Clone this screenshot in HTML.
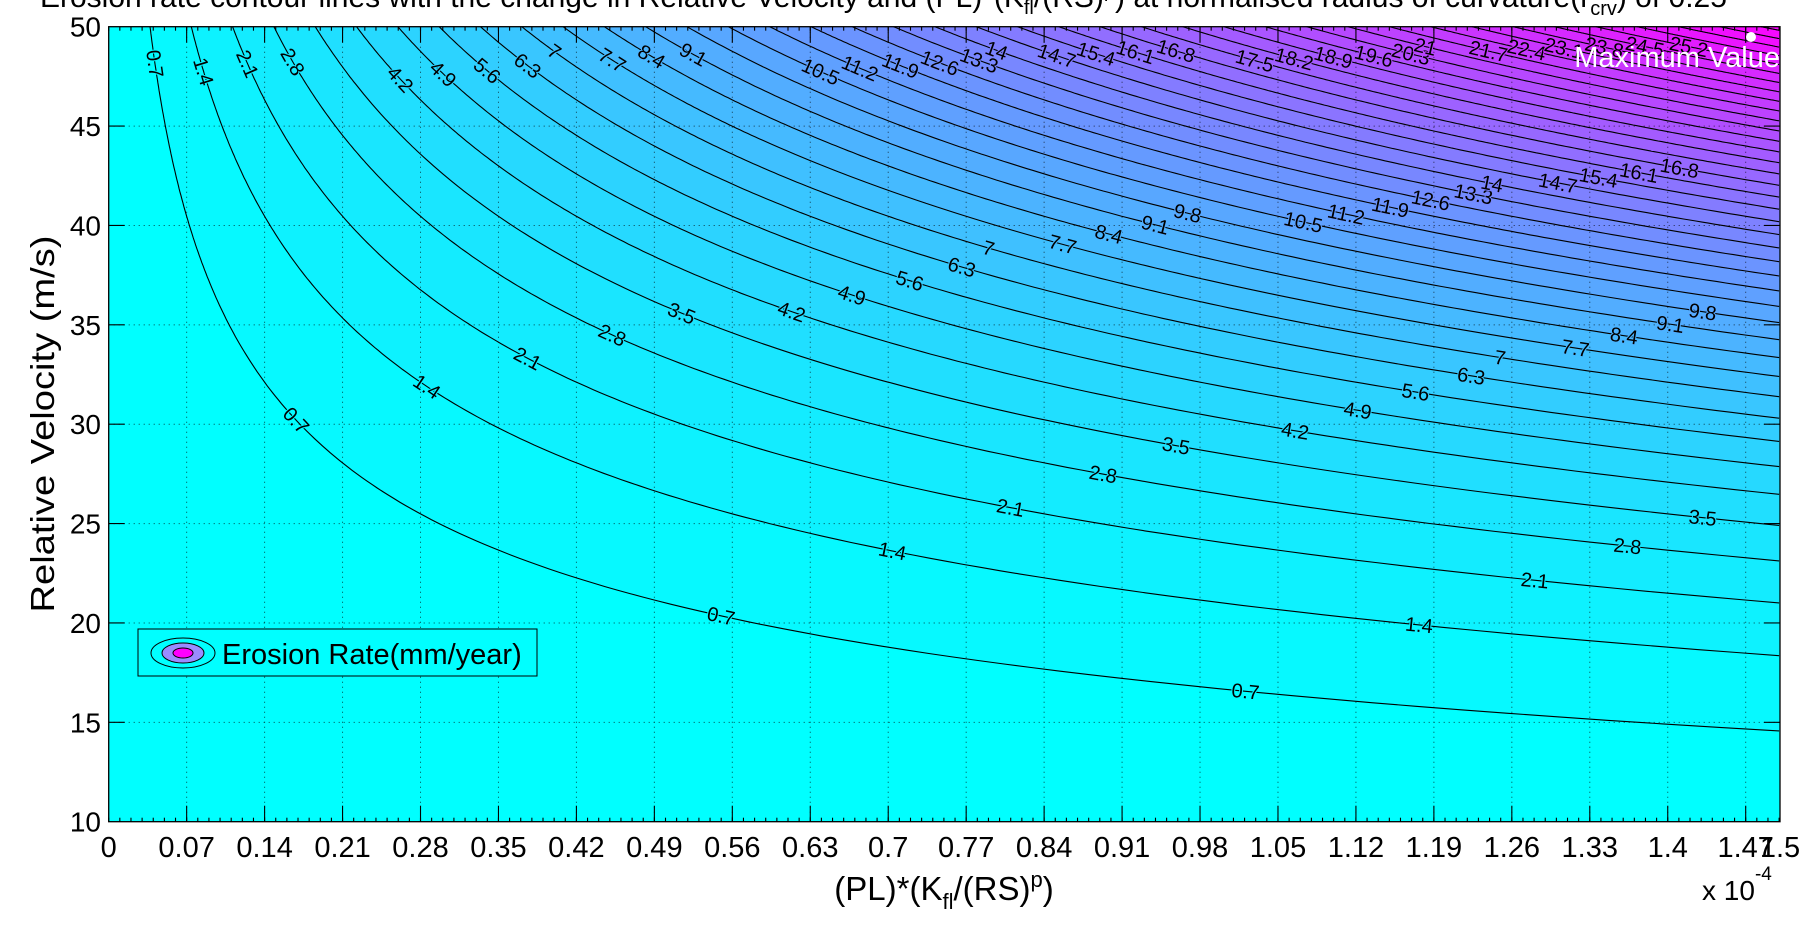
<!DOCTYPE html>
<html><head><meta charset="utf-8">
<style>
html,body{margin:0;padding:0;background:#fff;}
svg{display:block;font-family:"Liberation Sans",Arial,sans-serif;}
</style></head>
<body>
<svg id="s" width="1817" height="928" viewBox="0 0 1817 928" xmlns="http://www.w3.org/2000/svg">
<text x="40" y="7" font-size="30" fill="#000">Erosion rate contour lines with the change in Relative Velocity and (PL)*(K<tspan font-size="20" dy="7">fl</tspan><tspan dy="-7">/(RS)</tspan><tspan font-size="20" dy="-10">p</tspan><tspan dy="10">) at normalised radius of curvature(r</tspan><tspan font-size="20" dy="8">crv</tspan><tspan dy="-8">) of 0.25</tspan></text>
<g id="plot"></g>
</svg>
<script>
(function(){
var NS="http://www.w3.org/2000/svg";
var L=108.7,R=1780,T=26.7,B=821.7;
var PX=1113.6, PY=19.875;
var c=18.87/125000;
var Emax=c*1.5*125000;
function px(x){return L+x*PX;}
function py(v){return B-(v-10)*PY;}
function cool(t){t=Math.max(0,Math.min(1,t));var r=Math.round(255*t),g=Math.round(255*(1-t));return "rgb("+r+","+g+",255)";}
var g=document.getElementById("plot");
function el(n,a,p){var e=document.createElementNS(NS,n);for(var k in a)e.setAttribute(k,a[k]);(p||g).appendChild(e);return e;}
var levels=[];for(var k=1;k<=40;k++)levels.push(Math.round(k*7)/10);
el("rect",{x:L,y:T,width:R-L,height:B-T,fill:cool(0)});
function curvePts(Lv){
  var vmin=Math.pow(Lv/(c*1.5),1/3);var vs=Math.max(10,vmin);var pts=[];
  var N=200;for(var i=0;i<=N;i++){var v=vs+(50-vs)*i/N;var x=Lv/(c*v*v*v);if(x>1.5)x=1.5;pts.push([px(x),py(v)]);}
  return {pts:pts,vs:vs};
}
levels.forEach(function(Lv){
  var cp=curvePts(Lv);var p=cp.pts.map(function(a){return a[0].toFixed(1)+","+a[1].toFixed(1);});
  var extra=[R+","+T];
  if(cp.vs<=10.0001){extra.push(R+","+B);}
  el("polygon",{points:p.concat(extra).join(" "),fill:cool(Lv/Emax)});
});
var xt=[];for(var i=0;i<=21;i++){xt.push(i*0.07);}
var gg=el("g",{stroke:"#000","stroke-width":1,"stroke-dasharray":"1,4",fill:"none",opacity:0.7});
for(var i=1;i<xt.length;i++){var X=px(xt[i]);if(X<R-1)el("line",{x1:X,y1:T,x2:X,y2:B},gg);}
for(var v=15;v<50;v+=5){el("line",{x1:L,y1:py(v),x2:R,y2:py(v)},gg);}
levels.forEach(function(Lv){
  var cp=curvePts(Lv);
  el("polyline",{points:cp.pts.map(function(a){return a[0].toFixed(1)+","+a[1].toFixed(1);}).join(" "),fill:"none",stroke:"#000","stroke-width":1.1});
});
var labs=[[0.7,133],[1.4,175],[2.1,213],[2.8,252],[4.2,345],[4.9,382],[5.6,420],[6.3,455],[7,478],[7.7,528],[8.4,562],[9.1,598],
[10.5,708],[11.2,742],[11.9,777],[12.6,811],[13.3,845],[14,860],[14.7,912],[15.4,946],[16.1,980],[16.8,1015],[17.5,1083],[18.2,1117],[18.9,1151],[19.6,1186],[20.3,1218],[21,1230],[21.7,1285],[22.4,1318],[23.1,1350],[23.8,1385],[24.5,1420],[25.2,1450],
[0.7,255],[1.4,368],[2.1,455],[2.8,528],[3.5,588],[4.2,683],[4.9,735],[5.6,785],[6.3,830],[7,853],[7.7,917],[8.4,957],[9.1,997],[9.8,1025],[10.5,1125],[11.2,1162],[11.9,1200],[12.6,1235],[13.3,1272],[14,1288],[14.7,1345],[15.4,1380],[16.1,1415],[16.8,1450],
[0.7,622],[1.4,770],[2.1,872],[2.8,952],[3.5,1015],[4.2,1118],[4.9,1172],[5.6,1222],[6.3,1270],[7,1295],[7.7,1360],[8.4,1402],[9.1,1442],[9.8,1470],
[0.7,1075],[1.4,1225],[2.1,1325],[2.8,1405],[3.5,1470]];
var lg=el("g",{"font-size":20,fill:"#000","text-anchor":"middle"});
labs.forEach(function(a){
  var Lv=a[0];var x=(a[1]-93)/1443*1.5;var v=Math.pow(Lv/(c*x),1/3);
  if(v>49){v=49;x=Lv/(c*v*v*v);}
  var dpx=3*x/v*PX, dpy=PY;var ang=Math.atan2(dpy,dpx)*180/Math.PI;
  var X=px(x),Y=py(v);
  var t=el("text",{x:0,y:7,transform:"translate("+X.toFixed(1)+","+Y.toFixed(1)+") rotate("+ang.toFixed(1)+")",stroke:cool(Lv/Emax),"stroke-width":2,"paint-order":"stroke"},lg);
  t.textContent=String(Lv);
});
el("rect",{x:L,y:T,width:R-L,height:B-T,fill:"none",stroke:"#000","stroke-width":1.3});
var tk=el("g",{stroke:"#000","stroke-width":1.1});
for(var i=1;i<xt.length;i++){var X=px(xt[i]);if(X<R-1){el("line",{x1:X,y1:B,x2:X,y2:B-16},tk);el("line",{x1:X,y1:T,x2:X,y2:T+16},tk);}}
for(var i=0;i<=150;i++){var X=px(i*0.01);el("line",{x1:X,y1:B,x2:X,y2:B-4},tk);el("line",{x1:X,y1:T,x2:X,y2:T+4},tk);}
for(var v=15;v<50;v+=5){el("line",{x1:L,y1:py(v),x2:L+16,y2:py(v)},tk);el("line",{x1:R,y1:py(v),x2:R-16,y2:py(v)},tk);}
var tl=el("g",{"font-size":29,fill:"#000","text-anchor":"middle"});
var xs=["0","0.07","0.14","0.21","0.28","0.35","0.42","0.49","0.56","0.63","0.7","0.77","0.84","0.91","0.98","1.05","1.12","1.19","1.26","1.33","1.4","1.47"];
xs.forEach(function(s,i){var t=el("text",{x:px(i*0.07),y:857},tl);t.textContent=s;});
var t15=el("text",{x:R,y:857},tl);t15.textContent="1.5";
var yl=el("g",{"font-size":28,fill:"#000","text-anchor":"end"});
for(var v=10;v<=50;v+=5){var t=el("text",{x:101,y:py(v)+10},yl);t.textContent=String(v);}
var m=el("text",{x:1702,y:900,"font-size":28});m.innerHTML='x 10<tspan font-size="19" dy="-20">-4</tspan>';
var xl=el("text",{x:944,y:900,"font-size":33,"text-anchor":"middle"});
xl.innerHTML='(PL)*(K<tspan font-size="22" dy="9">fl</tspan><tspan dy="-9">/(RS)</tspan><tspan font-size="22" dy="-13">p</tspan><tspan dy="13">)</tspan>';
var ylab=el("text",{x:0,y:0,"font-size":33,"text-anchor":"middle",transform:"translate(54,424) rotate(-90)",textLength:377,lengthAdjust:"spacingAndGlyphs"});ylab.textContent="Relative Velocity (m/s)";
el("circle",{cx:1751,cy:37,r:5,fill:"#fff"});
var mv=el("text",{x:1780,y:67,"font-size":29,fill:"#fff","text-anchor":"end"});mv.textContent="Maximum Value";
el("rect",{x:138,y:629,width:399,height:47,fill:"#0ff",stroke:"#000","stroke-width":1});
el("ellipse",{cx:183,cy:653,rx:32,ry:15,fill:"#0ff",stroke:"#000","stroke-width":1});
el("ellipse",{cx:183,cy:653,rx:21,ry:10,fill:"#9a8cff",stroke:"#000","stroke-width":1});
el("ellipse",{cx:183,cy:653,rx:10,ry:5,fill:"#f0f",stroke:"#000","stroke-width":1});
var lt=el("text",{x:222,y:664,"font-size":29});lt.textContent="Erosion Rate(mm/year)";
})();
</script>
</body></html>
